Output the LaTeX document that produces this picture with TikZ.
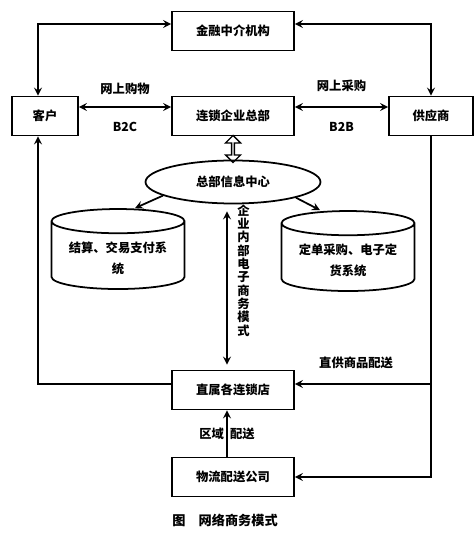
\documentclass[tikz,border=0pt]{standalone}
\usepackage{fontspec}
\setmainfont{Noto Sans CJK SC}
\usetikzlibrary{positioning,shapes.geometric,shapes.arrows}

\begin{document}
\begin{tikzpicture}[x=0.02cm, y=-0.02cm,
    box/.style={draw, line width=1pt, minimum width=2.44cm, minimum height=0.78cm,
                align=center, font=\fontsize{7}{9}\bfseries\selectfont},
    db/.style={draw, line width=1pt, cylinder, shape border rotate=90, aspect=0.22,
               minimum width=2.66cm, minimum height=1.6cm, align=center,
               font=\fontsize{7}{12}\bfseries\selectfont},
    lbl/.style={font=\fontsize{7}{9}\bfseries\selectfont},
    arr/.style={->, >=stealth, line width=1pt},
    darr/.style={<->, >=stealth, line width=1pt}
]
\useasboundingbox (0,0) rectangle (475,546);
\node[box] (jr) at (233,31) {金融中介机构};
\node[box, minimum width=1.32cm] (kh) at (45,116) {客户};
\node[box] (zb) at (233,116) {连锁企业总部};
\node[box, minimum width=1.68cm] (gy) at (431,116) {供应商};
\node[draw, line width=1pt, ellipse, minimum width=3.5cm, minimum height=0.86cm,
      font=\fontsize{7}{9}\bfseries\selectfont] (xx) at (233,182) {总部信息中心};
\node[draw, line width=0.8pt, double arrow, shape border rotate=90, inner sep=0pt,
      minimum width=0.3cm, minimum height=0.54cm, double arrow head extend=0.06cm]
      (sx) at (233,149) {};
\node[db] (js) at (118,258) {结算、交易支付系\\统};
\node[db] (dd) at (348,260) {定单采购、电子定\\货系统};
\node[box] (zs) at (233,390) {直属各连锁店};
\node[box] (wl) at (233,477) {物流配送公司};
\coordinate (zsr) at ([yshift=0.12cm]zs.east);
\draw[darr] ([xshift=-0.14cm]kh.north) |- ([yshift=0.14cm]jr.west);
\draw[darr] ([yshift=0.14cm]jr.east) -| (gy.north);
\draw[darr] ([yshift=0.18cm]kh.east) -- node[lbl, above=3pt] {网上购物}
    node[lbl, below=5pt] {B2C} ([yshift=0.18cm]zb.west);
\draw[darr] ([yshift=0.18cm]zb.east) -- node[lbl, above=5pt] {网上采购}
    node[lbl, below=5pt] {B2B} ([yshift=0.18cm]gy.west);
\draw[arr] (xx.191) -- ([xshift=0.34cm]js.north);
\draw[arr] (xx.346) -- ([xshift=-0.56cm]dd.north);
\draw[darr, shorten <=0.14cm, shorten >=0.1cm] ([xshift=-0.12cm]xx.south) --
    node[lbl, right=2pt, pos=0.4, align=center, font=\fontsize{7}{7.6}\bfseries\selectfont]
    {企\\业\\内\\部\\电\\子\\商\\务\\模\\式} ([xshift=-0.12cm]zs.north);
\draw[arr] ([yshift=0.12cm]zs.west) -| ([xshift=-0.14cm]kh.south);
\draw[arr] (gy.south) |- (wl.east);
\draw[arr] (gy.south |- zsr) -- node[lbl, above=5pt, pos=0.55] {直供商品配送} (zsr);
\draw[arr] ([xshift=-0.12cm]wl.north) -- node[lbl] {区域\hspace{0.5em}配送} ([xshift=-0.12cm]zs.south);
\node[lbl, font=\fontsize{7.5}{9}\bfseries\selectfont] (cap) at (225,520) {图\quad 网络商务模式};
\end{tikzpicture}
\end{document}
